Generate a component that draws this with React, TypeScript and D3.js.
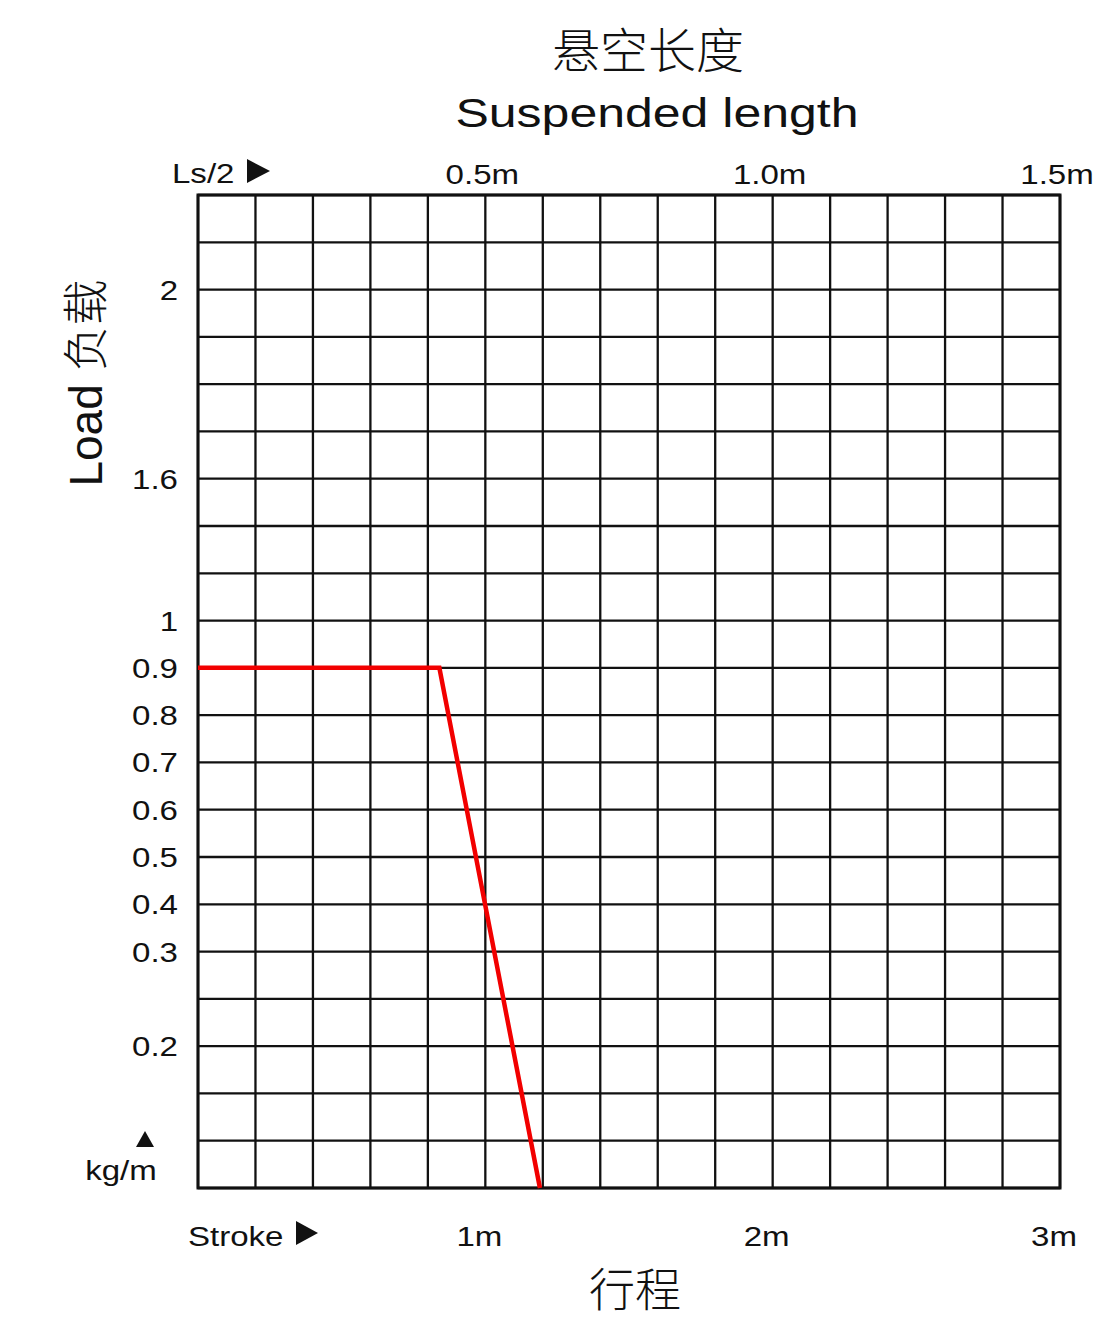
import React from "react";
import * as d3 from "d3";

// ---- data ----
const loadTicks = [2, 1.6, 1, 0.9, 0.8, 0.7, 0.6, 0.5, 0.4, 0.3, 0.2];
const loadTickLabels = ["2", "1.6", "1", "0.9", "0.8", "0.7", "0.6", "0.5", "0.4", "0.3", "0.2"];
// load value -> grid row index (chart uses a non-uniform load axis)
const loadDomain = [0, 0.2, 0.3, 0.4, 0.5, 0.6, 0.7, 0.8, 0.9, 1, 1.6, 2];
const loadRows = [0, 3, 5, 6, 7, 8, 9, 10, 11, 12, 15, 19];
const rowCount = 21;
const strokeTicks = [1, 2, 3];
const strokeTickLabels = ["1m", "2m", "3m"];
const lengthTicks = [0.5, 1.0, 1.5];
const lengthTickLabels = ["0.5m", "1.0m", "1.5m"];
const strokeGridStep = 0.2; // 15 columns
const curveStroke = [0, 0.84, 1.19];
const curveLoad = [0.9, 0.9, 0];

const W = 1108;
const H = 1324;
const left = 198;
const right = 1060;
const top = 195;
const bottom = 1188;

const FONT = "'Liberation Sans', Arial, sans-serif";
const CJK = "'Noto Sans CJK SC', sans-serif";

export default function App() {
  const x = d3.scaleLinear().domain([0, 3]).range([left, right]);
  const xTop = d3.scaleLinear().domain([0, 1.5]).range([left, right]);
  const row = d3.scaleLinear().domain([0, rowCount]).range([bottom, top]);
  const loadToRow = d3.scaleLinear().domain(loadDomain).range(loadRows);
  const y = (v: number) => row(loadToRow(v));

  const colVals = d3.range(0, 3 + 1e-9, strokeGridStep);
  const rowVals = d3.range(0, rowCount + 1);

  const line = d3
    .line<number>()
    .x((_, i) => x(curveStroke[i]))
    .y((_, i) => y(curveLoad[i]));

  const sx = 1.18;

  const T = (props: {
    x: number;
    y: number;
    s?: number;
    size: number;
    anchor?: "start" | "middle" | "end";
    children: React.ReactNode;
    font?: string;
    weight?: number;
  }) => (
    <text
      transform={`translate(${props.x},${props.y}) scale(${props.s ?? sx},1)`}
      fontSize={props.size}
      fontFamily={props.font ?? FONT}
      fontWeight={props.weight ?? 400}
      textAnchor={props.anchor ?? "middle"}
      fill="#111"
    >
      {props.children}
    </text>
  );

  return (
    <svg width={W} height={H} style={{ display: "block", margin: "-8px", background: "#fff" }}>
      <rect width={W} height={H} fill="#fff" />
      {/* titles */}
      <text x={648} y={68} fontSize={48} fontFamily={CJK} fontWeight={300} textAnchor="middle" fill="#111">
        悬空长度
      </text>
      <T x={657} y={127} size={40} s={1.25}>Suspended length</T>

      {/* grid */}
      <g stroke="#111" strokeWidth={2.3}>
        {colVals.map((v, i) => (
          <line key={"c" + i} x1={x(v)} x2={x(v)} y1={top} y2={bottom} />
        ))}
        {rowVals.map((r) => (
          <line key={"r" + r} x1={left} x2={right} y1={row(r)} y2={row(r)} />
        ))}
      </g>
      <rect x={left} y={top} width={right - left} height={bottom - top} fill="none" stroke="#111" strokeWidth={3} />

      {/* curve */}
      <path d={line(curveStroke) ?? ""} fill="none" stroke="#f20000" strokeWidth={4.5} strokeLinejoin="miter" />

      {/* y ticks */}
      {loadTicks.map((v, i) => (
        <T key={"yl" + i} x={178} y={y(v) + 10} size={28} anchor="end">
          {loadTickLabels[i]}
        </T>
      ))}

      {/* top ticks */}
      <T x={172} y={183} size={28} anchor="start">Ls/2</T>
      <path d="M247,159 L270,171 L247,183 Z" fill="#111" />
      {lengthTicks.map((v, i) => (
        <T key={"tl" + i} x={xTop(v) - 3} y={184} size={28}>
          {lengthTickLabels[i]}
        </T>
      ))}

      {/* bottom ticks */}
      <T x={188} y={1246} size={28} anchor="start">Stroke</T>
      <path d="M296,1221 L318,1233 L296,1245 Z" fill="#111" />
      {strokeTicks.map((v, i) => (
        <T key={"bl" + i} x={x(v) - 6} y={1246} size={28}>
          {strokeTickLabels[i]}
        </T>
      ))}
      <text x={635} y={1306} fontSize={46} fontFamily={CJK} fontWeight={300} textAnchor="middle" fill="#111">
        行程
      </text>

      {/* y unit */}
      <path d="M136,1147 L145,1131 L154,1147 Z" fill="#111" />
      <T x={121} y={1180} size={28}>kg/m</T>

      {/* y axis title */}
      <g transform="translate(102,383) rotate(-90)">
        <text fontSize={46} fontFamily={FONT} textAnchor="middle" fill="#111">
          <tspan>Load </tspan>
          <tspan fontFamily={CJK} fontWeight={300}>负载</tspan>
        </text>
      </g>
    </svg>
  );
}
